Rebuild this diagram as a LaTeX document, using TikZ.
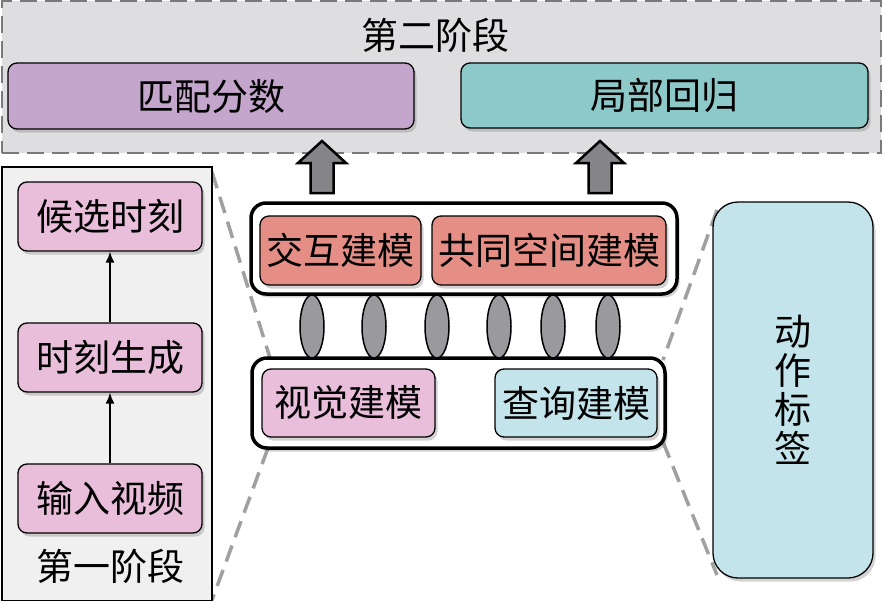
\documentclass[tikz,border=0pt]{standalone}
\usepackage{fontspec}
\newfontfamily\cjk{Noto Sans CJK SC}
\usetikzlibrary{shadows,arrows.meta,shapes.geometric}
\definecolor{stagegray}{HTML}{DEDEE0}
\definecolor{dashgray}{HTML}{7A7A7A}
\definecolor{zoomgray}{HTML}{A0A0A0}
\definecolor{purplebox}{HTML}{C4A5CC}
\definecolor{tealbox}{HTML}{8DC9C9}
\definecolor{pinkbox}{HTML}{E9BEDB}
\definecolor{salmonbox}{HTML}{E48E86}
\definecolor{bluebox}{HTML}{C3E4EA}
\definecolor{panelgray}{HTML}{F0F0F0}
\definecolor{ellgray}{HTML}{9A9A9E}
\definecolor{arrgray}{HTML}{858589}
\begin{document}
\begin{tikzpicture}[x=1pt,y=-1pt,
  font=\cjk\fontsize{37}{42}\selectfont,
  shad/.style={drop shadow={shadow xshift=2.5pt,shadow yshift=-3.5pt,opacity=0.35}},
  box/.style={draw=black, line width=1.3pt, rounded corners=9pt, inner sep=0pt, shad},
  container/.style={draw=black, fill=white, line width=3.5pt, rounded corners=15pt, inner sep=0pt, shad},
  lens/.style={ellipse, draw=black, line width=1.5pt, fill=ellgray, minimum width=24pt, minimum height=63pt, inner sep=0pt},
  zoomline/.style={draw=zoomgray, line width=3.5pt, dash pattern=on 17pt off 9pt},
  blockarrow/.style={draw=black, line width=2.5pt, fill=arrgray, line join=miter},
  flow/.style={draw=black, line width=1.6pt, -{Latex[length=11pt,width=9pt]}}
]
\useasboundingbox (0,0) rectangle (886,600);

% stage 2 region
\node[draw=dashgray, fill=stagegray, line width=2.8pt, dash pattern=on 17pt off 8pt,
      minimum width=879pt, minimum height=152pt, inner sep=0pt] (stage2) at (441.5,77) {};
\node (title2) at (435,35) {第二阶段};
\node[box, fill=purplebox, minimum width=406pt, minimum height=66pt] (match) at (211,96) {匹配分数};
\node[box, fill=tealbox, minimum width=407pt, minimum height=65pt] (local) at (664.5,95.5) {局部回归};

% zoom lines
\coordinate (zl1) at (212,172);
\coordinate (zl2) at (270,358);
\coordinate (zl3) at (268,448);
\coordinate (zl4) at (212,600);
\coordinate (zr1) at (717,210);
\coordinate (zr2) at (663,360);
\coordinate (zr3) at (663,442);
\coordinate (zr4) at (717,575);
\draw[zoomline] (zl1) -- (zl2);
\draw[zoomline] (zl3) -- (zl4);
\draw[zoomline] (zr1) -- (zr2);
\draw[zoomline] (zr3) -- (zr4);

% stage 1 panel
\node[draw=black, fill=panelgray, line width=1.3pt, minimum width=210pt, minimum height=434pt, inner sep=0pt] (panel) at (107,384) {};
\node[box, fill=pinkbox, minimum width=184pt, minimum height=69pt] (cand) at (110,216.5) {候选时刻};
\node[box, fill=pinkbox, minimum width=184pt, minimum height=69pt] (gen) at (110,357.5) {时刻生成};
\node[box, fill=pinkbox, minimum width=184pt, minimum height=69pt] (video) at (110,498.5) {输入视频};
\node (title1) at (110,566) {第一阶段};
\draw[flow] (video.north) -- (gen.south);
\draw[flow] (gen.north) -- (cand.south);

% middle block
\node[container, minimum width=426pt, minimum height=91pt] (upper) at (464,248.5) {};
\node[box, fill=salmonbox, minimum width=161pt, minimum height=69pt] (inter) at (340.5,250.5) {交互建模};
\node[box, fill=salmonbox, minimum width=234pt, minimum height=69pt] (common) at (549,250.5) {共同空间建模};
\node[container, minimum width=413pt, minimum height=90pt] (lower) at (458.5,403) {};
\node[box, fill=pinkbox, minimum width=173pt, minimum height=68pt] (visual) at (348.5,403) {视觉建模};
\node[box, fill=bluebox, minimum width=162pt, minimum height=68pt] (query) at (576,403) {查询建模};

\foreach \i/\x in {1/312,2/374,3/437,4/499,5/553,6/608}
  \node[lens] (lens\i) at (\x,326.5) {};

% block arrows
\foreach \cx in {322,600}
  \draw[blockarrow] (\cx-11.5,193) -- (\cx+11.5,193) -- (\cx+11.5,163) -- (\cx+24,163)
        -- (\cx,141) -- (\cx-24,163) -- (\cx-11.5,163) -- cycle;

% action labels
\node[box, fill=bluebox, rounded corners=25pt, minimum width=160pt, minimum height=376pt,
      align=center, font=\cjk\fontsize{37}{39}\selectfont] (action) at (793,390) {动\\作\\标\\签};
\end{tikzpicture}
\end{document}
